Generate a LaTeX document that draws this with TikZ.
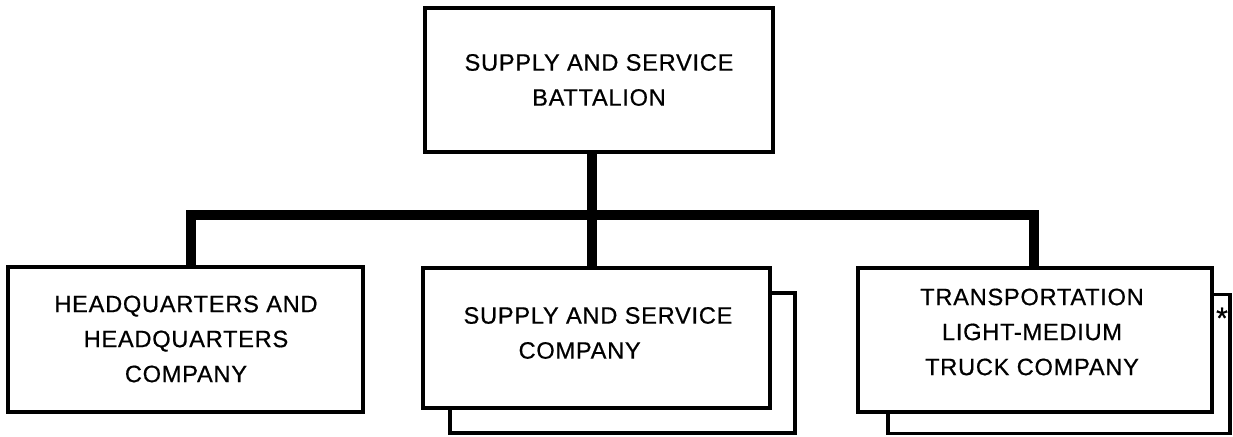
\documentclass[tikz,border=0pt]{standalone}
\usepackage{fontspec}
\setmainfont{Liberation Sans}[LetterSpace=3,FakeBold=0.6]
\begin{document}
\begin{tikzpicture}[x=0.6pt,y=-0.6pt,
  box/.style={draw, line width=2.4pt, fill=white, inner sep=0pt},
  shadowbox/.style={draw, line width=2.2pt, fill=white, inner sep=0pt},
  conn/.style={line width=6pt, line join=miter},
  lbl/.style={font=\fontsize{14.2}{21}\selectfont, align=center, inner sep=0pt}]
\useasboundingbox (0,0) rectangle (1233,437);
% top box
\node[box, minimum width=208.8pt, minimum height=86.4pt] (top) at (599,80) {};
\node[lbl] (toptxt) at (599,80) {SUPPLY AND SERVICE\\BATTALION};
% left box
\node[box, minimum width=213pt, minimum height=87pt] (hq) at (185.5,339.5) {};
\node[lbl] (hqtxt) at (186,339) {HEADQUARTERS AND\\HEADQUARTERS\\COMPANY};
% middle box with shadow
\node[shadowbox, minimum width=207pt, minimum height=84pt] (sscb) at (622.5,363) {};
\node[box, minimum width=208.2pt, minimum height=84pt] (ssc) at (596.5,338) {};
\node[lbl] (ssctxt) at (598,333) {SUPPLY AND SERVICE\\COMPANY\hspace*{22pt}};
% right box with shadow
\node[shadowbox, minimum width=205.2pt, minimum height=83.4pt] (trb) at (1059,364) {};
\node[box, minimum width=212.4pt, minimum height=86.4pt] (tr) at (1035,340) {};
\node[lbl] (trtxt) at (1032,332) {TRANSPORTATION\\LIGHT-MEDIUM\\TRUCK COMPANY};
\node[font=\fontsize{18}{18}\selectfont, inner sep=0pt, anchor=center] (star) at (1222,318) {*};
% connectors
\coordinate (j) at (592,215);
\coordinate (bl) at (191,215);
\coordinate (br) at (1034,215);
\draw[conn] (top.south -| j) -- (j);
\draw[conn] (hq.north -| bl) -- (bl) -- (br) -- (tr.north -| br);
\draw[conn] (j) -- (ssc.north -| j);
\end{tikzpicture}
\end{document}
